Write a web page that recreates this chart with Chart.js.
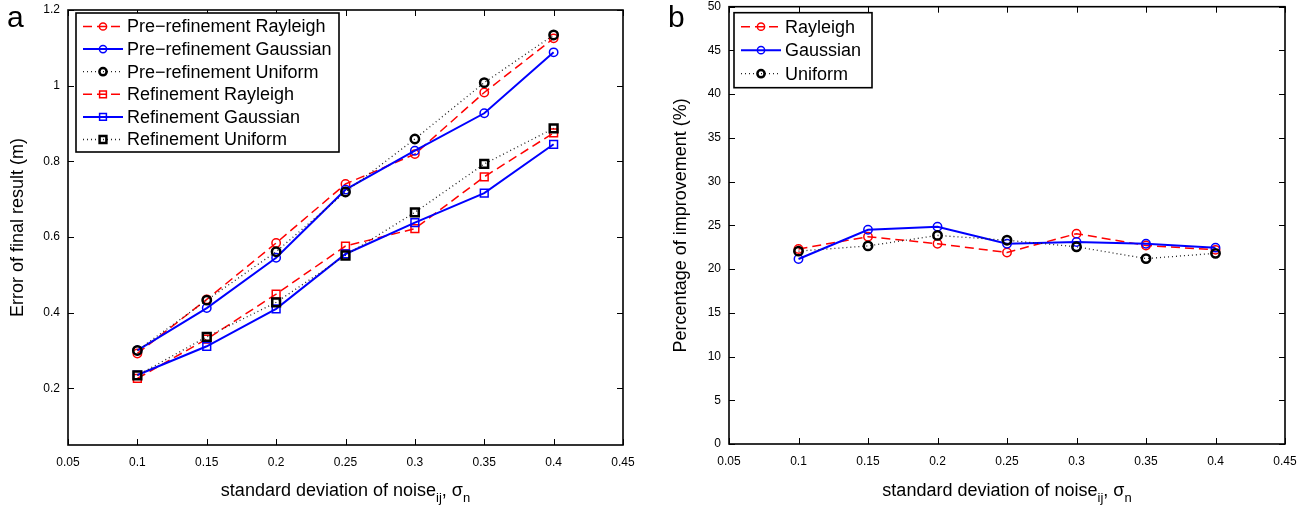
<!DOCTYPE html>
<html>
<head>
<meta charset="utf-8">
<script src="https://cdn.jsdelivr.net/npm/chart.js@4.4.1/dist/chart.umd.min.js"></script>
<style>
    html, body { margin: 0; padding: 0; background: #fff; }
    .panel { position: absolute; top: 0; width: 656px; height: 510px; }
    #panelA { left: 0; }
    #panelB { left: 656px; }
</style>
</head>
<body>
<div class="panel" id="panelA"><canvas id="chartA" width="656" height="510"></canvas></div>
<div class="panel" id="panelB"><canvas id="chartB" width="656" height="510"></canvas></div>
<script>
// noise levels (x) shared by both panels
const noiseLevels = [0.1, 0.15, 0.2, 0.25, 0.3, 0.35, 0.4];
const xTicks = [0.05, 0.1, 0.15, 0.2, 0.25, 0.3, 0.35, 0.4, 0.45];

// panel a: error of final result (m)
const preRayleigh = [0.292, 0.435, 0.584, 0.740, 0.819, 0.982, 1.125];
const preGaussian = [0.300, 0.412, 0.545, 0.725, 0.828, 0.927, 1.088];
const preUniform  = [0.300, 0.433, 0.561, 0.719, 0.859, 1.008, 1.134];
const refRayleigh = [0.226, 0.330, 0.449, 0.576, 0.622, 0.759, 0.875];
const refGaussian = [0.235, 0.311, 0.410, 0.555, 0.638, 0.716, 0.845];
const refUniform  = [0.234, 0.336, 0.427, 0.551, 0.665, 0.793, 0.887];
const errorTicks = [0.2, 0.4, 0.6, 0.8, 1, 1.2];

// panel b: percentage of improvement (%)
const impRayleigh = [22.3, 23.7, 22.9, 21.9, 24.05, 22.7, 22.2];
const impGaussian = [21.15, 24.5, 24.85, 22.9, 23.1, 22.9, 22.45];
const impUniform  = [22.05, 22.65, 23.85, 23.3, 22.55, 21.2, 21.8];
const percentTicks = [0, 5, 10, 15, 20, 25, 30, 35, 40, 45, 50];

const FONT = "'Liberation Sans', Arial, Helvetica, sans-serif";

const lineStyles = {
    Rayleigh: { color: '#ff0000', width: 1.5, dash: [9, 5], markerWidth: 1.5 },
    Gaussian: { color: '#0000ff', width: 2, dash: [], markerWidth: 1.5 },
    Uniform:  { color: '#222222', width: 1.3, dash: [1, 3], markerWidth: 2.5 }
};

function makeDataset(label, values, kind, shape, order) {
    const s = lineStyles[kind];
    return {
        label: label,
        data: values.map((v, i) => ({ x: noiseLevels[i], y: v })),
        borderColor: s.color,
        borderWidth: s.width,
        borderDash: s.dash,
        pointStyle: shape,
        pointRadius: shape === 'rect' ? 5.5 : 4.2,
        pointBorderWidth: s.markerWidth,
        pointBorderColor: kind === 'Uniform' ? '#000' : s.color,
        pointBackgroundColor: 'rgba(0,0,0,0)',
        fill: false,
        tension: 0,
        order: order
    };
}

function fmt(v) {
    return String(+Number(v).toFixed(2));
}

function line(ctx, x1, y1, x2, y2) {
    ctx.beginPath();
    ctx.moveTo(x1, y1);
    ctx.lineTo(x2, y2);
    ctx.stroke();
}

function drawMarker(ctx, shape, x, y, r, color, width) {
    ctx.save();
    ctx.setLineDash([]);
    ctx.strokeStyle = color;
    ctx.lineWidth = width;
    ctx.beginPath();
    if (shape === 'rect') {
        const h = r * Math.SQRT1_2;
        ctx.rect(x - h, y - h, 2 * h, 2 * h);
    } else {
        ctx.arc(x, y, r, 0, Math.PI * 2);
    }
    ctx.stroke();
    ctx.restore();
}

// matlab-like box, inward ticks, titles, legend
const matlabFrame = {
    id: 'matlabFrame',
    afterDraw(chart, args, opts) {
        const { ctx, chartArea: a, scales: { x, y } } = chart;
        ctx.save();

        ctx.strokeStyle = '#000';
        ctx.lineWidth = 1;
        ctx.setLineDash([]);
        x.ticks.forEach(t => {
            const px = Math.round(x.getPixelForValue(t.value)) + 0.5;
            line(ctx, px, a.bottom, px, a.bottom - 6);
            line(ctx, px, a.top, px, a.top + 6);
        });
        y.ticks.forEach(t => {
            const py = Math.round(y.getPixelForValue(t.value)) + 0.5;
            line(ctx, a.left, py, a.left + 6, py);
            line(ctx, a.right, py, a.right - 6, py);
        });

        ctx.lineWidth = 1.6;
        ctx.strokeRect(a.left, a.top, a.right - a.left, a.bottom - a.top);

        // panel letter
        ctx.fillStyle = '#000';
        ctx.font = `30px ${FONT}`;
        ctx.textAlign = 'left';
        ctx.textBaseline = 'alphabetic';
        ctx.fillText(opts.panel, opts.panelX, 27);

        // y title
        ctx.save();
        ctx.translate(opts.yTitleX, (a.top + a.bottom) / 2);
        ctx.rotate(-Math.PI / 2);
        ctx.font = `18px ${FONT}`;
        ctx.textAlign = 'center';
        ctx.textBaseline = 'middle';
        ctx.fillText(opts.yTitle, 0, 0);
        ctx.restore();

        // x title with subscripts
        const parts = [
            { t: 'standard deviation of noise', sub: false },
            { t: 'ij', sub: true },
            { t: ', \u03c3', sub: false },
            { t: 'n', sub: true }
        ];
        let total = 0;
        parts.forEach(p => {
            ctx.font = p.sub ? `13px ${FONT}` : `18px ${FONT}`;
            p.w = ctx.measureText(p.t).width;
            total += p.w;
        });
        let cx = (a.left + a.right) / 2 - total / 2;
        ctx.textAlign = 'left';
        ctx.textBaseline = 'alphabetic';
        parts.forEach(p => {
            ctx.font = p.sub ? `13px ${FONT}` : `18px ${FONT}`;
            ctx.fillText(p.t, cx, p.sub ? 502 : 496);
            cx += p.w;
        });

        // legend
        const lg = opts.legend;
        const bx = a.left + lg.dx, by = a.top + lg.dy;
        ctx.fillStyle = '#fff';
        ctx.fillRect(bx, by, lg.w, lg.h);
        ctx.strokeStyle = '#000';
        ctx.lineWidth = 1.6;
        ctx.strokeRect(bx, by, lg.w, lg.h);
        chart.data.datasets.forEach((ds, i) => {
            const ry = by + lg.first + i * lg.step;
            ctx.save();
            ctx.strokeStyle = ds.borderColor;
            ctx.lineWidth = ds.borderWidth;
            ctx.setLineDash(ds.borderDash);
            line(ctx, bx + 7, ry, bx + 47, ry);
            ctx.restore();
            drawMarker(ctx, ds.pointStyle, bx + 27, ry, ds.pointStyle === 'rect' ? 4.8 : 3.6,
                ds.pointBorderColor, ds.pointBorderWidth);
            ctx.fillStyle = '#000';
            ctx.font = `18px ${FONT}`;
            ctx.textAlign = 'left';
            ctx.textBaseline = 'middle';
            ctx.fillText(ds.label, bx + 51, ry + 1);
        });

        ctx.restore();
    }
};

function makeOptions(cfg) {
    const tickFont = { family: FONT, size: 12 };
    return {
        responsive: false,
        animation: false,
        events: [],
        layout: { padding: { left: 0, top: cfg.top, right: cfg.right, bottom: 0 } },
        plugins: {
            legend: { display: false },
            tooltip: { enabled: false },
            matlabFrame: cfg.frame
        },
        scales: {
            x: {
                type: 'linear',
                min: 0.05,
                max: 0.45,
                afterBuildTicks: s => { s.ticks = xTicks.map(v => ({ value: v })); },
                afterFit: s => { s.height = cfg.xHeight; s.paddingLeft = 0; s.paddingRight = 0; },
                grid: { display: false, drawTicks: false },
                border: { display: false },
                ticks: { padding: 10, color: '#000', font: tickFont, maxRotation: 0, autoSkip: false, callback: v => fmt(v) }
            },
            y: {
                type: 'linear',
                min: cfg.yMin,
                max: cfg.yMax,
                afterBuildTicks: s => { s.ticks = cfg.yTicks.map(v => ({ value: v })); },
                afterFit: s => { s.width = cfg.yWidth; s.paddingTop = 0; s.paddingBottom = 0; },
                grid: { display: false, drawTicks: false },
                border: { display: false },
                ticks: { padding: 8, color: '#000', font: tickFont, autoSkip: false, callback: v => fmt(v) }
            }
        }
    };
}

new Chart(document.getElementById('chartA'), {
    type: 'line',
    data: {
        datasets: [
            makeDataset('Pre\u2212refinement Rayleigh', preRayleigh, 'Rayleigh', 'circle', 6),
            makeDataset('Pre\u2212refinement Gaussian', preGaussian, 'Gaussian', 'circle', 5),
            makeDataset('Pre\u2212refinement Uniform', preUniform, 'Uniform', 'circle', 4),
            makeDataset('Refinement Rayleigh', refRayleigh, 'Rayleigh', 'rect', 3),
            makeDataset('Refinement Gaussian', refGaussian, 'Gaussian', 'rect', 2),
            makeDataset('Refinement Uniform', refUniform, 'Uniform', 'rect', 1)
        ]
    },
    options: makeOptions({
        top: 10, right: 33, xHeight: 65, yWidth: 68,
        yMin: 0.05, yMax: 1.2, yTicks: errorTicks,
        frame: {
            panel: 'a', panelX: 7, yTitleX: 18,
            yTitle: 'Error of final result (m)',
            legend: { dx: 8, dy: 3, w: 263, h: 139, first: 13.5, step: 22.6 }
        }
    }),
    plugins: [matlabFrame]
});

new Chart(document.getElementById('chartB'), {
    type: 'line',
    data: {
        datasets: [
            makeDataset('Rayleigh', impRayleigh, 'Rayleigh', 'circle', 3),
            makeDataset('Gaussian', impGaussian, 'Gaussian', 'circle', 2),
            makeDataset('Uniform', impUniform, 'Uniform', 'circle', 1)
        ]
    },
    options: makeOptions({
        top: 6, right: 27, xHeight: 66, yWidth: 73,
        yMin: 0, yMax: 50, yTicks: percentTicks,
        frame: {
            panel: 'b', panelX: 12, yTitleX: 25,
            yTitle: 'Percentage of improvement (%)',
            legend: { dx: 5, dy: 6, w: 138, h: 75, first: 14, step: 23.5 }
        }
    }),
    plugins: [matlabFrame]
});
</script>
</body>
</html>
